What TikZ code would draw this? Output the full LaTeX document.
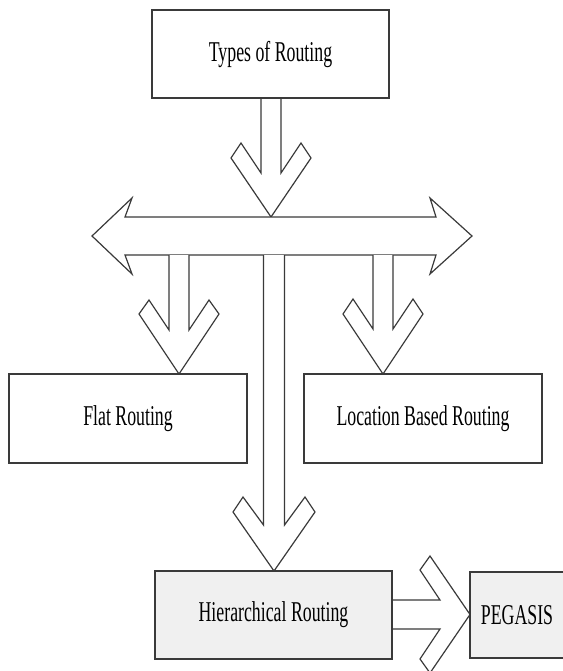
\documentclass[tikz,border=0pt]{standalone}
\usepackage{fontspec}
\setmainfont{Liberation Serif}
\usepackage{graphicx}
\newcommand{\cz}[1]{\scalebox{0.62}[1]{#1}}
\definecolor{ln}{HTML}{3A3A3A}
\definecolor{gfill}{HTML}{F0F0F0}
\tikzset{
  box/.style={draw=ln, line width=1.6pt, fill=white, inner sep=0pt, font=\fontsize{28.7}{30}\selectfont},
  gbox/.style={box, fill=gfill},
  blockarrow/.style={draw=ln, line width=1.2pt, fill=white, line join=miter},
}
\begin{document}
\begin{tikzpicture}[x=1pt,y=-1pt]
\useasboundingbox (0,0) rectangle (562,671);
% block arrows
\path[blockarrow] (261,98) -- (261,173) -- (241,143) -- (231,158) -- (271,217) -- (311,158) -- (301,143) -- (281,173) -- (281,98);
\path[blockarrow] (125,217) -- (132,198) -- (92,236) -- (132,274) -- (125,255) -- (436,255) -- (430,274) -- (472,236) -- (430,198) -- (436,217) -- cycle;
\path[blockarrow] (169,255) -- (169,330) -- (149,300) -- (139,314) -- (179,374) -- (219,314) -- (209,300) -- (189,330) -- (189,255);
\path[blockarrow] (373,255) -- (373,329) -- (353,299) -- (343,314) -- (383,374) -- (423,314) -- (413,299) -- (393,329) -- (393,255);
\path[blockarrow] (263.5,255) -- (263.5,525) -- (243,497) -- (233,512) -- (274,571) -- (315,512) -- (305,497) -- (284.5,525) -- (284.5,255);
\path[blockarrow] (392,600) -- (440,600) -- (420,570) -- (430,556) -- (470,614.5) -- (430,673) -- (420,659) -- (440,629) -- (392,629);
% boxes
\node[box, minimum width=237pt, minimum height=88pt] (types) at (270.5,54) {\cz{Types of Routing}};
\node[box, minimum width=238pt, minimum height=89pt] (flat) at (128,418.5) {\cz{Flat Routing}};
\node[box, minimum width=238pt, minimum height=89pt] (loc) at (423,418.5) {\cz{Location Based Routing}};
\node[gbox, minimum width=237pt, minimum height=88pt] (hier) at (273.5,615) {\cz{Hierarchical Routing}};
\node[gbox, minimum width=94pt, minimum height=86pt] (peg) at (517,615) {\cz{PEGASIS}};
\end{tikzpicture}
\end{document}
